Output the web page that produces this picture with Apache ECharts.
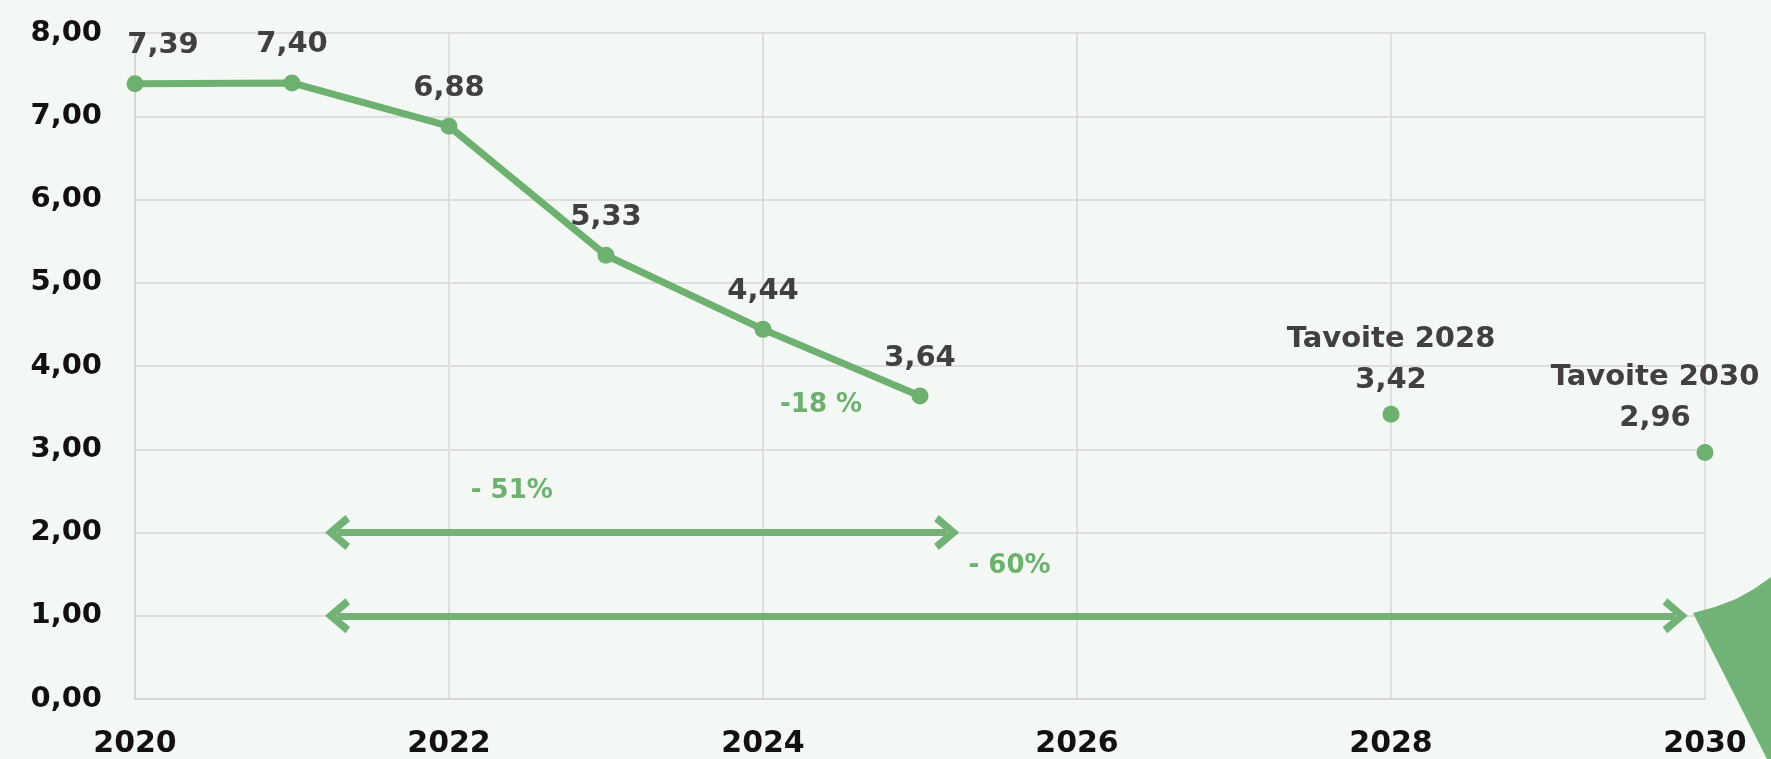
<!DOCTYPE html>
<html>
<head>
<meta charset="utf-8">
<script src="https://cdn.jsdelivr.net/npm/echarts@6/dist/echarts.min.js"></script>
<style>
html, body { margin: 0; padding: 0; background: #F3F8F4; }
#chart { width: 1771px; height: 759px; }
</style>
</head>
<body>
<div id="chart"></div>
<script>
// toteutuneet arvot
const years = [2020, 2021, 2022, 2023, 2024, 2025]
const values = [7.39, 7.40, 6.88, 5.33, 4.44, 3.64]
// tavoitteet
const targetYears = [2028, 2030]
const targetValues = [3.42, 2.96]
// nuolet (alku- ja loppuvuosi, taso)
const arrowStarts = [2021.29, 2021.29]
const arrowEnds = [2025.17, 2029.81]
const arrowLevels = [2, 1]
// muutostekstit
const noteTexts = ['-18 %', '- 51%', '- 60%']
const noteYears = [2024.37, 2022.40, 2025.57]
const noteValues = [3.53, 2.50, 1.60]

const GREEN = '#6DB06F'
const ARROW_GREEN = '#72B276'
const FONT = 'DejaVu Sans'

const fmt = v => v.toFixed(2).replace('.', ',')

const chevron = 'path://M0,18 L14,0 L28,18 L23,22 L14,10 L5,22 Z'

let chart = echarts.init(document.getElementById('chart'))

let chartOpt = {
  backgroundColor: '#F3F8F4',
  animation: false,
  grid: { left: 135, right: 66, top: 33, bottom: 58 },
  xAxis: {
    type: 'value',
    min: 2020,
    max: 2030,
    interval: 2,
    axisLine: { show: true, lineStyle: { color: '#D6D6D6', width: 2 } },
    axisTick: { show: false },
    axisLabel: {
      formatter: v => String(v),
      color: '#111',
      fontFamily: FONT,
      fontWeight: 'bold',
      fontSize: 30,
      margin: 30
    },
    splitLine: { show: true, lineStyle: { color: '#DEDEDE', width: 2 } }
  },
  yAxis: {
    type: 'value',
    min: 0,
    max: 8,
    interval: 1,
    axisLine: { show: true, lineStyle: { color: '#D6D6D6', width: 2 } },
    axisTick: { show: false },
    axisLabel: {
      formatter: v => fmt(v),
      color: '#111',
      fontFamily: FONT,
      fontWeight: 'bold',
      fontSize: 29,
      margin: 33
    },
    splitLine: { show: true, lineStyle: { color: '#DEDEDE', width: 2 } }
  },
  series: [
    {
      type: 'line',
      data: years.map((y, i) => {
        let d = { value: [y, values[i]] }
        if (i === 0) d.label = { offset: [28, 0] }
        return d
      }),
      symbol: 'circle',
      symbolSize: 17,
      lineStyle: { color: GREEN, width: 7 },
      itemStyle: { color: GREEN },
      label: {
        show: true,
        position: 'top',
        distance: 15,
        formatter: p => fmt(p.value[1]),
        color: '#404040',
        fontFamily: FONT,
        fontWeight: 'bold',
        fontSize: 29
      },
      z: 3
    },
    {
      type: 'scatter',
      data: targetYears.map((y, i) => {
        let d = { value: [y, targetValues[i]] }
        if (i === 1) d.label = { offset: [-50, 0] }
        return d
      }),
      symbol: 'circle',
      symbolSize: 17,
      itemStyle: { color: GREEN, opacity: 1 },
      label: {
        show: true,
        position: 'top',
        distance: 5,
        align: 'center',
        lineHeight: 41,
        formatter: p => 'Tavoite ' + p.value[0] + '\n' + fmt(p.value[1]),
        color: '#404040',
        fontFamily: FONT,
        fontWeight: 'bold',
        fontSize: 29
      },
      z: 3
    },
    {
      type: 'scatter',
      data: noteYears.map((y, i) => ({ value: [y, noteValues[i]], name: noteTexts[i] })),
      symbolSize: 0,
      itemStyle: { opacity: 1 },
      label: {
        show: true,
        position: 'inside',
        formatter: p => p.name,
        color: GREEN,
        fontFamily: FONT,
        fontWeight: 'bold',
        fontSize: 26
      },
      silent: true,
      z: 4
    },
    {
      type: 'scatter',
      data: [],
      markLine: {
        silent: true,
        symbol: [chevron, chevron],
        symbolSize: [35, 25],
        label: { show: false },
        lineStyle: { color: ARROW_GREEN, width: 7, type: 'solid' },
        data: arrowLevels.map((lv, i) => [
          { coord: [arrowStarts[i], lv] },
          { coord: [arrowEnds[i], lv] }
        ])
      }
    }
  ],
  graphic: [
    {
      type: 'polygon',
      shape: {
        points: [[1693, 613], [1715, 607], [1736, 599], [1754, 589], [1771, 577], [1771, 759], [1767, 759]]
      },
      style: { fill: '#72B276' },
      z: 100
    }
  ]
}

chart.setOption(chartOpt)
</script>
</body>
</html>
